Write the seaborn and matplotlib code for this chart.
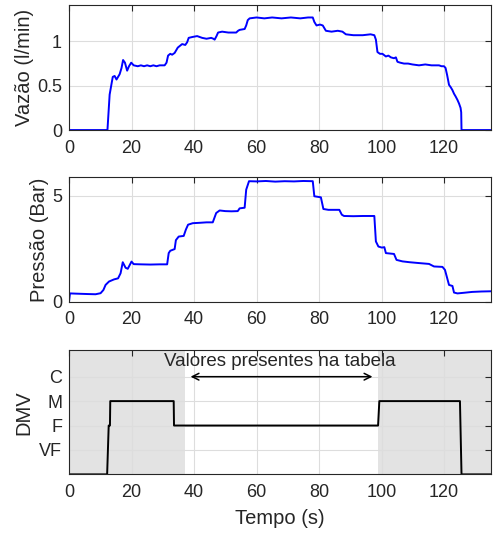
import numpy as np
import pandas as pd
import matplotlib
matplotlib.use("Agg")
import matplotlib.pyplot as plt
import seaborn as sns

# vazao (l/min)
t_vazao = [0, 12.3, 13.0, 13.5, 14.0, 14.6, 15.2, 15.7, 16.2, 16.8, 17.3, 17.9, 18.6, 19.2, 19.9,
           20.7, 22, 23, 24, 25, 26, 27, 28, 29, 30.6, 31.2, 31.7, 32.4, 33.0, 33.8, 34.8, 35.5,
           36.2, 37.2, 37.8, 38.3, 39.5, 41.0, 42.6, 44, 45.5, 46.2, 46.6, 47.2, 47.7, 49, 51,
           53.5, 54.1, 54.6, 56.2, 56.7, 57.2, 57.8, 60, 62.5, 65, 68, 71, 74, 76.5, 78.0, 78.5,
           79.2, 80.3, 81.2, 82.2, 84, 86, 87.5, 88.6, 91, 94, 96.5, 97.7, 98.2, 98.7, 99.5,
           100.3, 101.4, 102.2, 103.0, 104.0, 104.6, 105.1, 106, 107.2, 108.5, 109.9, 112, 114,
           116, 118.4, 119.2, 120.0, 120.5, 121.0, 121.6, 122.2, 122.7, 123.2, 123.7, 124.3,
           124.8, 125.3, 125.5, 125.6, 135]
vazao = [0, 0, 0.40, 0.50, 0.60, 0.61, 0.57, 0.60, 0.63, 0.70, 0.79, 0.76, 0.67, 0.72, 0.76,
         0.73, 0.72, 0.73, 0.72, 0.73, 0.72, 0.73, 0.72, 0.73, 0.73, 0.76, 0.84, 0.86, 0.85,
         0.87, 0.93, 0.95, 0.97, 0.96, 0.99, 1.04, 1.05, 1.06, 1.04, 1.03, 1.04, 1.03, 1.02,
         1.06, 1.10, 1.11, 1.10, 1.10, 1.12, 1.13, 1.14, 1.18, 1.24, 1.26, 1.27, 1.26, 1.27,
         1.26, 1.27, 1.26, 1.27, 1.27, 1.22, 1.18, 1.19, 1.18, 1.12, 1.11, 1.12, 1.11, 1.08,
         1.07, 1.07, 1.08, 1.07, 1.02, 0.88, 0.86, 0.86, 0.83, 0.84, 0.82, 0.81, 0.82, 0.77,
         0.76, 0.75, 0.75, 0.74, 0.73, 0.74, 0.73, 0.73, 0.72, 0.72, 0.70, 0.62, 0.51, 0.48,
         0.45, 0.41, 0.38, 0.34, 0.30, 0.25, 0.20, 0, 0]

# pressao (bar)
t_pressao = [0, 0.3, 2, 4, 6, 8.5, 10.1, 11.0, 11.7, 12.8, 14.4, 15.7, 16.5, 17.2, 18.1, 18.8,
             20.0, 20.7, 23, 26, 29, 31.4, 31.9, 32.4, 33.8, 34.2, 35.1, 36.7, 37.4, 38.1, 39.6,
             42, 44, 46.0, 47.1, 48.2, 50, 52, 54.0, 54.6, 56.2, 56.7, 57.6, 60, 63, 66, 69, 72,
             75, 78.0, 78.5, 80.6, 81.4, 83, 86.5, 87.3, 88, 91, 94, 97.7, 98.2, 99.0, 100.1,
             100.9, 101.4, 104.0, 104.8, 106.7, 109, 112, 115.2, 116.8, 119.5, 120.3, 121.6,
             122.7, 123.2, 124.3, 126.4, 129, 132, 135]
pressao = [0, 0.39, 0.38, 0.37, 0.36, 0.35, 0.40, 0.55, 0.79, 0.95, 1.05, 1.10, 1.34, 1.86,
           1.60, 1.55, 1.89, 1.77, 1.76, 1.75, 1.76, 1.76, 2.29, 2.40, 2.48, 2.90, 3.07, 3.10,
           3.40, 3.63, 3.70, 3.72, 3.74, 3.74, 4.18, 4.30, 4.27, 4.26, 4.27, 4.40, 4.43, 5.28,
           5.68, 5.67, 5.69, 5.66, 5.68, 5.67, 5.69, 5.68, 4.97, 4.92, 4.37, 4.33, 4.33, 4.10,
           4.04, 4.03, 4.04, 4.04, 2.84, 2.60, 2.55, 2.57, 2.29, 2.25, 1.97, 1.90, 1.86, 1.82,
           1.78, 1.66, 1.64, 1.50, 0.79, 0.74, 0.43, 0.39, 0.42, 0.46, 0.48, 0.49]

# DMV level (0 = none, 1 VF, 2 F, 3 M, 4 C)
t_dmv = [0, 12.2, 12.7, 13.1, 13.2, 33.5, 33.6, 98.9, 99.3, 125.1, 125.6, 135]
dmv = [0, 0, 2, 2, 3, 3, 2, 2, 3, 3, 0, 0]
dmv_ticks = [1, 2, 3, 4]
dmv_labels = ["VF", "F", "M", "C"]
xticks = [0, 20, 40, 60, 80, 100, 120]

sns.set_theme(style="white")
plt.rcParams["font.family"] = ["Liberation Sans", "DejaVu Sans"]
dark = "#262626"

fig = plt.figure(figsize=(4.94, 5.33), dpi=100)
ax1 = fig.add_axes([0.1397, 0.756, 0.854, 0.2345])
ax2 = fig.add_axes([0.1397, 0.434, 0.854, 0.234])
ax3 = fig.add_axes([0.1397, 0.110, 0.854, 0.2332])

sns.lineplot(x=t_vazao, y=vazao, ax=ax1, color="#0000ff", lw=1.4, sort=False, estimator=None)
sns.lineplot(x=t_pressao, y=pressao, ax=ax2, color="#0000ff", lw=1.4, sort=False, estimator=None)

ax3.axvspan(0, 37, color="#e3e3e3", zorder=0, lw=0)
ax3.axvspan(99, 135, color="#e3e3e3", zorder=0, lw=0)
sns.lineplot(x=t_dmv, y=dmv, ax=ax3, color="black", lw=1.4, sort=False, estimator=None)
ax3.annotate("", xy=(38, 4), xytext=(98, 4),
             arrowprops=dict(arrowstyle="<->", color="black", lw=1.1))
ax3.text(67.5, 4.64, "Valores presentes na tabela", ha="center", va="center",
         fontsize=13.5, color=dark)

ax1.set_ylim(0, 1.41)
ax1.set_yticks([0, 0.5, 1])
ax1.set_yticklabels(["0", "0.5", "1"])
ax2.set_ylim(0, 5.88)
ax2.set_yticks([0, 5])
ax3.set_ylim(0, 5.09)
ax3.set_yticks(dmv_ticks)
ax3.set_yticklabels(dmv_labels)

for ax in (ax1, ax2, ax3):
    ax.set_xlim(0, 135)
    ax.set_xticks(xticks)
    ax.grid(True, color="#dddddd", lw=0.8)
    ax.set_axisbelow(True)
    ax.tick_params(direction="in", top=True, right=True, length=4, width=0.8,
                   colors=dark, labelsize=13)
    ax.tick_params(axis="x", pad=7)
    ax.tick_params(axis="y", pad=5)
    for s in ax.spines.values():
        s.set_color(dark)
        s.set_linewidth(0.8)
    ax.set_xlabel("")

ax1.set_ylabel("Vazão (l/min)", fontsize=14.5, color=dark)
ax2.set_ylabel("Pressão (Bar)", fontsize=14.5, color=dark)
ax3.set_ylabel("DMV", fontsize=14.5, color=dark)
ax3.set_xlabel("Tempo (s)", fontsize=14.5, color=dark, labelpad=6)
ax1.yaxis.set_label_coords(-0.083, 0.5)
ax2.yaxis.set_label_coords(-0.047, 0.5)
ax3.yaxis.set_label_coords(-0.085, 0.5)

fig.savefig("out.png", dpi=100)
